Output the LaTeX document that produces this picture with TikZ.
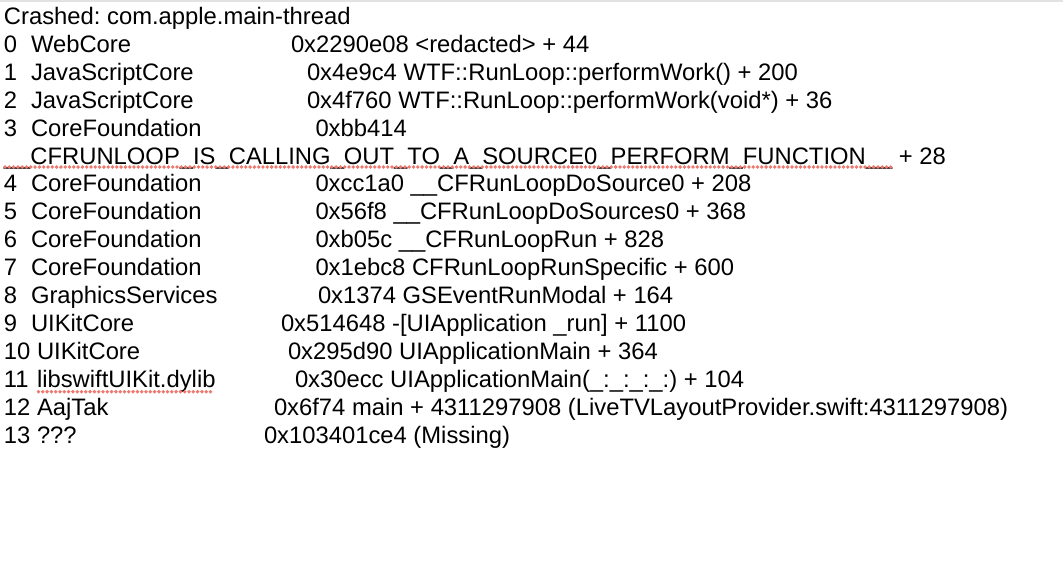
\documentclass[tikz,border=0pt]{standalone}
\usepackage{fontspec}
\setmainfont{Liberation Sans}
\usetikzlibrary{decorations.markings}
\definecolor{spell}{RGB}{238,120,110}
\definecolor{topgray}{RGB}{226,226,226}
\begin{document}
\begin{tikzpicture}[x=1pt,y=-1pt,
  txt/.style={anchor=base west,inner sep=0pt,outer sep=0pt,font=\fontsize{23.8}{28}\selectfont\frenchspacing},
  squiggle/.style={decoration={markings,mark=between positions 0 and 1 step 4.3pt with {\fill[spell] (0,0) circle (1.9pt);}},decorate}]
\useasboundingbox[fill=white] (0,0) rectangle (1064,560);
\fill[topgray] (0,0) rectangle (1063,2);

\node[txt] (head) at (4,24.5) {Crashed: com.apple.main-thread};

\node[txt] (n0) at (4,52.4) {0};
\node[txt] (m0) at (31,52.4) {WebCore};
\node[txt] (a0) at (291,52.4) {0x2290e08 <redacted> + 44};

\node[txt] (n1) at (4,80.3) {1};
\node[txt] (m1) at (31,80.3) {JavaScriptCore};
\node[txt] (a1) at (307,80.3) {0x4e9c4 WTF::RunLoop::performWork() + 200};

\node[txt] (n2) at (4,108.2) {2};
\node[txt] (m2) at (31,108.2) {JavaScriptCore};
\node[txt] (a2) at (307,108.2) {0x4f760 WTF::RunLoop::performWork(void*) + 36};

\node[txt] (n3) at (4,136.1) {3};
\node[txt] (m3) at (31,136.1) {CoreFoundation};
\node[txt] (a3) at (315.5,136.1) {0xbb414};

\node[txt] (cf) at (4,164.0) {\_\_CFRUNLOOP\_IS\_CALLING\_OUT\_TO\_A\_SOURCE0\_PERFORM\_FUNCTION\_\_};
\node[txt,xshift=6.6pt] (cfp) at (cf.base east) {+ 28};
\path[squiggle] ([xshift=1pt,yshift=-3pt]cf.base west) -- ([xshift=-1pt,yshift=-3pt]cf.base east);

\node[txt] (n4) at (4,191.9) {4};
\node[txt] (m4) at (31,191.9) {CoreFoundation};
\node[txt] (a4) at (315.5,191.9) {0xcc1a0 \_\_CFRunLoopDoSource0 + 208};

\node[txt] (n5) at (4,219.8) {5};
\node[txt] (m5) at (31,219.8) {CoreFoundation};
\node[txt] (a5) at (315.5,219.8) {0x56f8 \_\_CFRunLoopDoSources0 + 368};

\node[txt] (n6) at (4,247.7) {6};
\node[txt] (m6) at (31,247.7) {CoreFoundation};
\node[txt] (a6) at (315.5,247.7) {0xb05c \_\_CFRunLoopRun + 828};

\node[txt] (n7) at (4,275.6) {7};
\node[txt] (m7) at (31,275.6) {CoreFoundation};
\node[txt] (a7) at (315.5,275.6) {0x1ebc8 CFRunLoopRunSpecific + 600};

\node[txt] (n8) at (4,303.5) {8};
\node[txt] (m8) at (31,303.5) {GraphicsServices};
\node[txt] (a8) at (318,303.5) {0x1374 GSEventRunModal + 164};

\node[txt] (n9) at (4,331.4) {9};
\node[txt] (m9) at (31,331.4) {UIKitCore};
\node[txt] (a9) at (281,331.4) {0x514648 -[UIApplication \_run] + 1100};

\node[txt] (n10) at (4,359.3) {10};
\node[txt] (m10) at (37,359.3) {UIKitCore};
\node[txt] (a10) at (288,359.3) {0x295d90 UIApplicationMain + 364};

\node[txt] (n11) at (4,387.2) {11};
\node[txt] (m11) at (37,387.2) {libswiftUIKit.dylib};
\node[txt] (a11) at (295,387.2) {0x30ecc UIApplicationMain(\_:\_:\_:\_:) + 104};
\path[squiggle] ([xshift=1.5pt,yshift=-4.5pt]m11.base west) -- ([xshift=-1pt,yshift=-4.5pt]m11.base east);

\node[txt] (n12) at (4,415.1) {12};
\node[txt] (m12) at (37,415.1) {AajTak};
\node[txt] (a12) at (274,415.1) {0x6f74 main + 4311297908 (LiveTVLayoutProvider.swift:4311297908)};

\node[txt] (n13) at (4,443.0) {13};
\node[txt] (m13) at (37,443.0) {???};
\node[txt] (a13) at (264,443.0) {0x103401ce4 (Missing)};
\end{tikzpicture}
\end{document}
